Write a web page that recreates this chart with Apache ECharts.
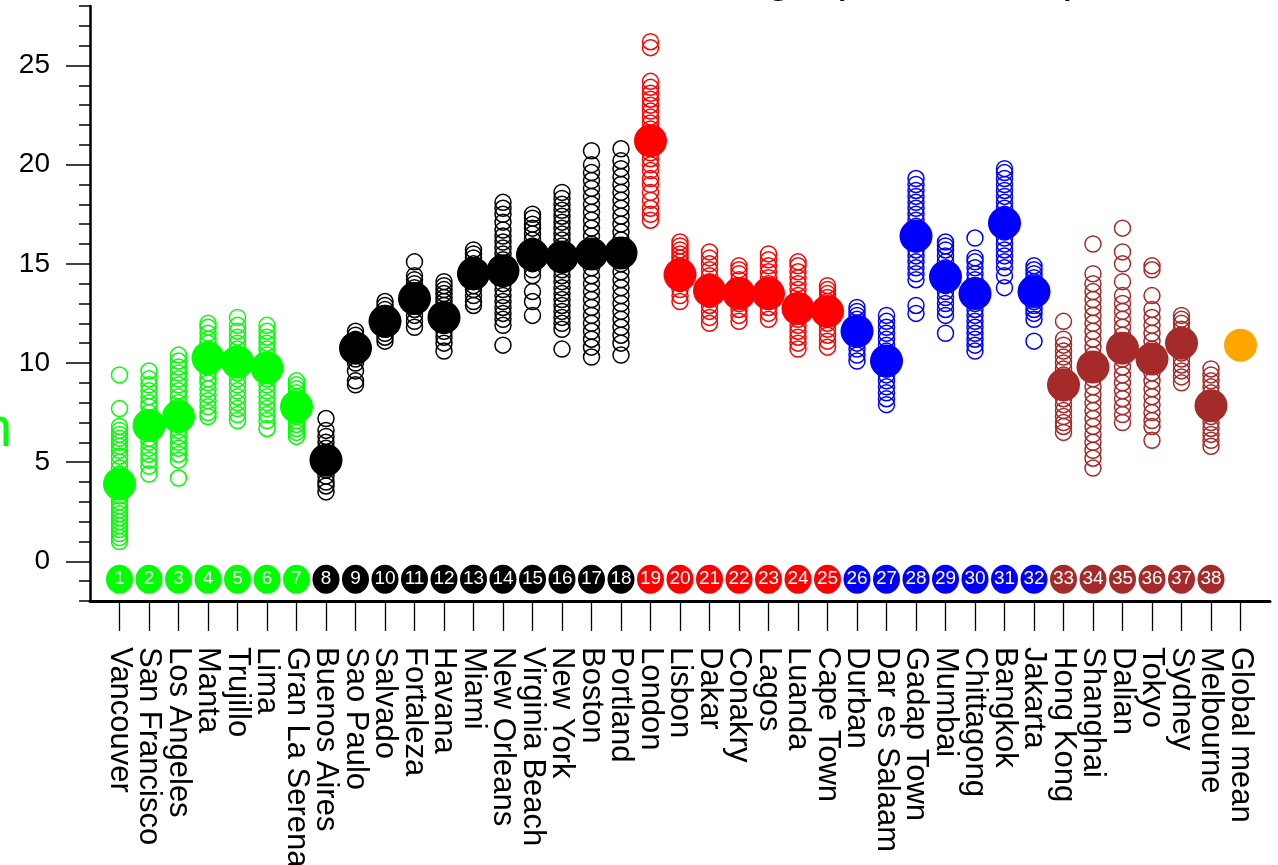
<!DOCTYPE html>
<html><head><meta charset="utf-8">
<script src="https://cdn.jsdelivr.net/npm/echarts@6/dist/echarts.min.js"></script>
<style>html,body{margin:0;padding:0;background:#fff}#c{width:1278px;height:865px}</style>
</head><body><div id="c"></div>
<script>
const cities = ['Vancouver','San Francisco','Los Angeles','Manta','Trujillo','Lima','Gran La Serena',
  'Buenos Aires','Sao Paulo','Salvado','Fortaleza','Havana','Miami','New Orleans','Virginia Beach','New York','Boston','Portland',
  'London','Lisbon','Dakar','Conakry','Lagos','Luanda','Cape Town',
  'Durban','Dar es Salaam','Gadap Town','Mumbai','Chittagong','Bangkok','Jakarta',
  'Hong Kong','Shanghai','Dalian','Tokyo','Sydney','Melbourne'];
const globalLabel = 'Global mean';
const means = [3.9, 6.85, 7.3, 10.25, 10.05, 9.75, 7.8,
  5.1, 10.75, 12.1, 13.25, 12.3, 14.5, 14.65, 15.45, 15.35, 15.5, 15.55,
  21.2, 14.45, 13.65, 13.5, 13.5, 12.75, 12.6,
  11.6, 10.1, 16.4, 14.35, 13.5, 17.05, 13.6,
  8.9, 9.8, 10.75, 10.2, 11.0, 7.85];
const globalMean = 10.9;
const ensemble = [
  [9.4, 7.7, 6.8, 6.6, 6.4, 6.2, 6.0, 5.8, 5.6, 5.3, 5.0, 4.7, 4.4, 4.2, 3.9, 3.6, 3.3, 3.0, 2.8, 2.6, 2.4, 2.2, 2.0, 1.8, 1.6, 1.4, 1.2, 1.0],
  [9.6, 9.2, 8.9, 8.6, 8.3, 8.0, 7.8, 7.5, 7.2, 7.0, 6.8, 6.5, 6.2, 6.0, 5.7, 5.4, 5.1, 4.8, 4.4],
  [10.4, 10.1, 9.8, 9.5, 9.2, 8.9, 8.6, 8.3, 8.0, 7.8, 7.5, 7.2, 6.9, 6.6, 6.3, 6.0, 5.7, 5.4, 5.1, 4.2],
  [12.0, 11.8, 11.5, 11.2, 11.0, 10.7, 10.4, 10.1, 9.8, 9.5, 9.2, 9.0, 8.7, 8.4, 8.1, 7.8, 7.5, 7.3],
  [12.3, 11.9, 11.6, 11.3, 11.0, 10.7, 10.4, 10.1, 9.8, 9.5, 9.2, 8.9, 8.6, 8.3, 8.0, 7.7, 7.4, 7.1],
  [11.9, 11.6, 11.3, 11.0, 10.7, 10.4, 10.1, 9.8, 9.5, 9.2, 8.9, 8.6, 8.3, 8.0, 7.7, 7.4, 7.1, 6.7],
  [9.1, 8.9, 8.7, 8.5, 8.3, 8.1, 7.9, 7.7, 7.5, 7.3, 7.1, 6.9, 6.7, 6.5, 6.3],
  [7.2, 6.6, 6.3, 6.0, 5.7, 5.4, 5.1, 4.9, 4.6, 4.3, 4.0, 3.8, 3.5],
  [11.6, 11.4, 11.2, 11.0, 10.8, 10.6, 10.4, 10.2, 10.0, 9.6, 9.1, 8.9],
  [13.1, 12.9, 12.7, 12.5, 12.3, 12.1, 11.9, 11.7, 11.5, 11.3, 11.1],
  [15.1, 14.4, 14.2, 14.0, 13.8, 13.6, 13.4, 13.2, 13.0, 12.7, 12.4, 12.1, 11.8],
  [14.1, 13.9, 13.7, 13.5, 13.3, 13.1, 12.9, 12.7, 12.5, 12.2, 11.9, 11.6, 11.3, 11.0, 10.6],
  [15.7, 15.5, 15.3, 15.0, 14.8, 14.6, 14.3, 14.1, 13.9, 13.7, 13.4, 13.1, 12.9],
  [18.1, 17.8, 17.5, 17.1, 16.7, 16.4, 16.1, 15.8, 15.5, 15.2, 14.9, 14.6, 14.3, 14.0, 13.7, 13.4, 13.1, 12.8, 12.5, 12.2, 11.9, 10.9],
  [17.5, 17.3, 17.0, 16.8, 16.5, 16.2, 15.9, 15.6, 15.3, 15.0, 14.7, 14.4, 13.6, 13.1, 12.4],
  [18.6, 18.3, 18.0, 17.7, 17.4, 17.1, 16.8, 16.5, 16.2, 15.9, 15.6, 15.3, 15.0, 14.7, 14.4, 14.1, 13.8, 13.5, 13.2, 12.9, 12.6, 12.3, 12.0, 11.7, 10.7],
  [20.7, 20.0, 19.6, 19.2, 18.8, 18.4, 18.0, 17.6, 17.2, 16.8, 16.4, 16.0, 15.6, 15.2, 14.8, 14.4, 14.0, 13.6, 13.2, 12.8, 12.4, 12.0, 11.6, 11.2, 10.8, 10.3],
  [20.8, 20.2, 19.8, 19.4, 19.0, 18.6, 18.2, 17.8, 17.4, 17.0, 16.6, 16.2, 15.8, 15.4, 15.0, 14.6, 14.2, 13.8, 13.4, 13.0, 12.6, 12.2, 11.8, 11.4, 11.0, 10.4],
  [26.2, 25.9, 24.2, 23.9, 23.6, 23.3, 23.0, 22.7, 22.4, 22.1, 21.8, 21.4, 21.0, 20.6, 20.3, 20.0, 19.7, 19.3, 19.0, 18.6, 18.2, 17.8, 17.5, 17.2],
  [16.1, 15.9, 15.7, 15.5, 15.3, 15.1, 14.9, 14.6, 14.3, 14.0, 13.7, 13.4, 13.1],
  [15.6, 15.3, 15.0, 14.7, 14.4, 14.1, 13.8, 13.5, 13.2, 12.9, 12.6, 12.3, 12.0],
  [14.9, 14.7, 14.5, 14.2, 13.9, 13.6, 13.3, 13.0, 12.7, 12.4, 12.1],
  [15.5, 15.2, 14.9, 14.6, 14.3, 14.0, 13.7, 13.4, 13.1, 12.8, 12.5, 12.2],
  [15.1, 14.9, 14.6, 14.3, 14.0, 13.7, 13.4, 13.1, 12.8, 12.5, 12.2, 11.9, 11.6, 11.3, 11.0, 10.7],
  [13.9, 13.7, 13.5, 13.3, 13.1, 12.9, 12.7, 12.5, 12.3, 12.0, 11.7, 11.4, 11.1, 10.8],
  [12.8, 12.6, 12.4, 12.2, 12.0, 11.8, 11.6, 11.4, 11.2, 11.0, 10.7, 10.4, 10.1],
  [12.4, 12.1, 11.8, 11.5, 11.2, 10.9, 10.6, 10.3, 10.0, 9.7, 9.4, 9.1, 8.8, 8.5, 8.2, 7.9],
  [19.3, 19.0, 18.7, 18.4, 18.1, 17.8, 17.5, 17.2, 16.9, 16.6, 16.3, 16.0, 15.7, 15.4, 15.1, 14.8, 14.5, 14.2, 12.9, 12.5],
  [16.1, 15.9, 15.7, 15.4, 15.1, 14.8, 14.5, 14.2, 13.9, 13.6, 13.3, 13.0, 12.7, 12.4, 11.5],
  [16.3, 15.3, 15.1, 14.8, 14.5, 14.2, 13.9, 13.6, 13.3, 13.0, 12.7, 12.4, 12.1, 11.8, 11.5, 11.2, 10.9, 10.6],
  [19.8, 19.6, 19.3, 19.0, 18.7, 18.4, 18.1, 17.8, 17.5, 17.2, 16.9, 16.6, 16.3, 16.0, 15.7, 15.4, 15.1, 14.8, 14.4, 13.8],
  [14.9, 14.7, 14.5, 14.3, 14.1, 13.9, 13.7, 13.5, 13.3, 13.1, 12.9, 12.7, 12.5, 12.2, 11.1],
  [12.1, 11.2, 10.9, 10.6, 10.3, 10.0, 9.7, 9.4, 9.1, 8.8, 8.5, 8.2, 7.9, 7.6, 7.3, 7.0, 6.8, 6.5],
  [16.0, 14.5, 14.0, 13.6, 13.2, 12.8, 12.4, 12.0, 11.6, 11.2, 10.8, 10.4, 10.0, 9.6, 9.2, 8.8, 8.4, 8.0, 7.6, 7.2, 6.8, 6.4, 6.0, 5.6, 5.2, 4.7],
  [16.8, 15.6, 15.0, 14.1, 13.4, 13.0, 12.6, 12.2, 11.8, 11.4, 11.0, 10.6, 10.2, 9.8, 9.4, 9.0, 8.6, 8.2, 7.8, 7.4, 7.0],
  [14.9, 14.7, 13.4, 12.7, 12.3, 11.9, 11.5, 11.1, 10.7, 10.3, 9.9, 9.5, 9.1, 8.7, 8.3, 7.9, 7.5, 7.1, 6.8, 6.1],
  [12.4, 12.2, 12.0, 11.7, 11.4, 11.1, 10.8, 10.5, 10.2, 9.9, 9.6, 9.3, 9.0],
  [9.7, 9.4, 9.1, 8.8, 8.5, 8.2, 7.9, 7.6, 7.3, 7.0, 6.7, 6.4, 6.1, 5.8]
];
const groupSizes = [7, 11, 7, 7, 6];
const yTickValues = [0, 5, 10, 15, 20, 25];
const badgeValue = -0.9;
const titleText = 'Annual Range (1981-2010)';

const groupColors = ['#00ff00', '#000000', '#ff0000', '#0000ff', '#a52a2a'];
const globalColor = '#ffa500';
const FONT = '"Liberation Sans", Arial, Helvetica, sans-serif';

const groupOf = [];
groupSizes.forEach((n, g) => { for (let k = 0; k < n; k++) groupOf.push(g); });
const labels = cities.concat([globalLabel]);
const positions = labels.map((_, i) => i + 1);
const oddPositions = positions.filter(p => p % 2 === 1);
const evenPositions = positions.filter(p => p % 2 === 0);
const minorTicks = [];
for (let v = -2; v <= 28; v++) minorTicks.push(v);

const ensembleSeries = groupColors.map((c, g) => {
  const data = [];
  ensemble.forEach((vals, i) => { if (groupOf[i] === g) vals.forEach(v => data.push([i + 1, v])); });
  return {
    type: 'scatter', data, symbol: 'circle', symbolSize: 16, z: 2, silent: true,
    itemStyle: { color: 'rgba(0,0,0,0)', borderColor: c, borderWidth: 1.5, opacity: 1 }
  };
});

const meanData = means.map((v, i) => ({ value: [i + 1, v], itemStyle: { color: groupColors[groupOf[i]], opacity: 1 } }));
meanData.push({ value: [labels.length, globalMean], itemStyle: { color: globalColor, opacity: 1 } });

const badgeData = cities.map((_, i) => ({ value: [i + 1, badgeValue], itemStyle: { color: groupColors[groupOf[i]], opacity: 1 } }));

function xAxisFor(vals, showLine) {
  return {
    type: 'value', min: 0, max: 40, position: 'bottom', offset: 0,
    splitLine: { show: false },
    axisLine: { show: showLine, onZero: false, lineStyle: { color: '#000', width: 3 } },
    axisTick: { show: true, customValues: vals, length: 30, lineStyle: { color: '#000', width: 1.3 } },
    axisLabel: {
      show: true, customValues: vals, rotate: -90, margin: 46,
      showMinLabel: true, showMaxLabel: true,
      formatter: v => labels[Math.round(v) - 1] || '',
      color: '#000', fontSize: 31, fontFamily: FONT
    }
  };
}

const chart = echarts.init(document.getElementById('c'), null, { renderer: 'canvas' });
chart.setOption({
  animation: false,
  backgroundColor: '#fff',
  grid: { left: 90, right: 8, top: 6, bottom: 264, outerBoundsMode: 'none' },
  xAxis: [xAxisFor(oddPositions, true), xAxisFor(evenPositions, false)],
  yAxis: [{
    type: 'value', min: -2, max: 28, position: 'left',
    splitLine: { show: false },
    axisLine: { show: true, onZero: false, lineStyle: { color: '#000', width: 2.5 } },
    axisTick: { show: true, customValues: yTickValues, length: 24, lineStyle: { color: '#000', width: 1.5 } },
    axisLabel: { show: true, customValues: yTickValues, showMinLabel: true, showMaxLabel: true, margin: 40, color: '#000', fontSize: 28, fontFamily: FONT }
  }, {
    type: 'value', min: -2, max: 28, position: 'left',
    splitLine: { show: false },
    axisLine: { show: false },
    axisTick: { show: true, customValues: minorTicks, length: 11, lineStyle: { color: '#000', width: 1.5 } },
    axisLabel: { show: false }
  }],
  series: ensembleSeries.concat([
    { type: 'scatter', data: meanData, symbol: 'circle', symbolSize: 33, z: 3, silent: true },
    {
      type: 'scatter', data: badgeData, symbol: 'circle', symbolSize: [27, 29], z: 3, silent: true,
      label: { show: true, position: 'inside', formatter: p => String(p.dataIndex + 1), color: '#fff', fontSize: 19, fontFamily: FONT }
    }
  ]),
  graphic: [
    { type: 'text', x: 1080, y: -22, silent: true,
      style: { text: titleText, fontSize: 46, fontFamily: FONT, fill: '#000', align: 'right', verticalAlign: 'middle' } },
    { type: 'text', x: -19, y: 431, silent: true,
      style: { text: 'n', fontSize: 56, fontFamily: FONT, fill: '#00ff00', align: 'left', verticalAlign: 'middle' } }
  ]
});
</script>
</body></html>
